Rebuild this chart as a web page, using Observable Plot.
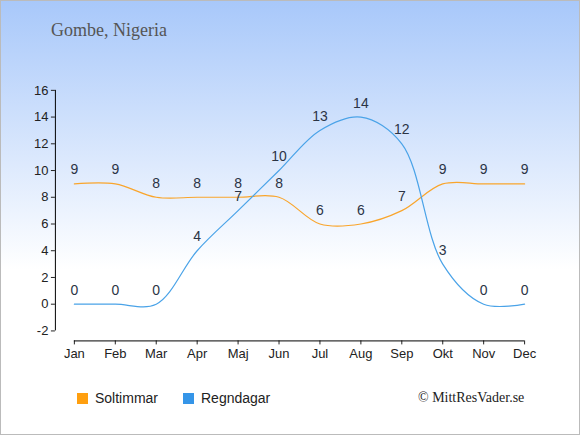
<!DOCTYPE html>
<html><head><meta charset="utf-8">
<script src="https://cdn.jsdelivr.net/npm/d3@7"></script>
<script src="https://cdn.jsdelivr.net/npm/@observablehq/plot@0.6"></script>
<style>
body{margin:0;}
#wrap{position:relative;width:580px;height:435px;box-sizing:border-box;border:1px solid #bbb;
background:linear-gradient(to bottom,#a8c8fa 0%,#ffffff 62%,#ffffff 100%);overflow:hidden;font-family:Arial,"Liberation Sans",sans-serif;}
#title{position:absolute;left:50px;top:19px;font-family:"Liberation Serif",serif;font-size:18px;color:#555;}
#chart{position:absolute;left:-1px;top:-1px;}
.leg{position:absolute;top:389px;font-size:14px;color:#222;display:flex;align-items:center;}
.sw{width:11px;height:11px;margin-right:7px;}
#copy{position:absolute;left:417px;top:389px;font-family:"Liberation Serif",serif;font-size:14px;color:#222;}
</style></head>
<body>
<div id="wrap">
<div id="title">Gombe, Nigeria</div>
<div id="chart"></div>
<div class="leg" style="left:76px"><div class="sw" style="background:#ff9f0f"></div>Soltimmar</div>
<div class="leg" style="left:182px"><div class="sw" style="background:#3595e8"></div>Regndagar</div>
<div id="copy">© MittResVader.se</div>
</div>
<script>
const months = ["Jan","Feb","Mar","Apr","Maj","Jun","Jul","Aug","Sep","Okt","Nov","Dec"];
const soltimmar = [9,9,8,8,8,8,6,6,7,9,9,9];
const regndagar = [0,0,0,4,7,10,13,14,12,3,0,0];
const yTicks = [-2,0,2,4,6,8,10,12,14,16];

const sol = months.map((m,i)=>({month:m, value:soltimmar[i]}));
const reg = months.map((m,i)=>({month:m, value:regndagar[i]}));
const orange = "#f9a52c", blue = "#4aa3e8";

const plot = Plot.plot({
  width:580, height:435,
  marginLeft:55, marginRight:55, marginTop:90, marginBottom:94,
  style:{background:"transparent", fontFamily:"Arial, 'Liberation Sans', sans-serif", fontSize:"13px", color:"#222"},
  x:{type:"point", domain:months, range:[74,525], padding:0},
  y:{domain:[-2,16], range:[331,90]},
  marks:[
    Plot.axisY({anchor:"left", ticks:yTicks, tickSize:4, tickPadding:3, tickFormat:d=>d, label:null, fontSize:13}),
    Plot.ruleX([months[0]], {y1:()=>-2, y2:()=>16, dx:-19, stroke:"#000"}),
    Plot.axisX({anchor:"bottom", tickSize:4, tickPadding:4, label:null, fontSize:13}),
    Plot.ruleY([-2], {x1:()=>months[0], x2:()=>months[11], dy:10, stroke:"#000"}),
    Plot.line(sol, {x:"month", y:"value", stroke:orange, strokeWidth:1.2, curve:"catmull-rom"}),
    Plot.line(reg, {x:"month", y:"value", stroke:blue, strokeWidth:1.2, curve:"catmull-rom"}),
    Plot.text(sol, {x:"month", y:"value", text:"value", dy:-14, fill:"#2b3445", fontSize:14}),
    Plot.text(reg, {x:"month", y:"value", text:"value", dy:-14, fill:"#2b3445", fontSize:14})
  ]
});
document.getElementById("chart").appendChild(plot);
</script>
</body></html>
